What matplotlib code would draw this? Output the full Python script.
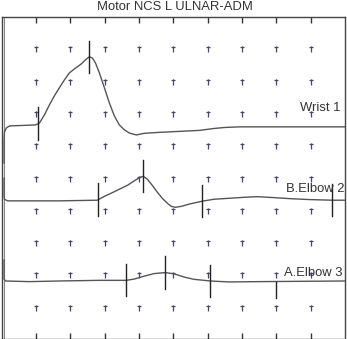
import numpy as np
import matplotlib
matplotlib.use("Agg")
import matplotlib.pyplot as plt
from matplotlib.path import Path

title = "Motor NCS L ULNAR-ADM"
labels = ["Wrist 1", "B.Elbow 2", "A.Elbow 3"]

# time in ms (2 ms/div), amplitude in divisions relative to each trace's baseline
t1 = [0.15, 0.15, 0.17, 0.29, 0.47, 1.05, 1.98, 2.21, 2.50, 2.79, 3.08, 3.37, 3.66, 3.95, 4.24,
      4.65, 4.94, 5.12, 5.29, 5.47, 5.70, 5.99, 6.28, 6.57, 6.86, 7.15, 7.44, 7.85, 8.31, 9.19,
      10.35, 11.51, 12.38, 12.97, 13.84, 20.0]
a1 = [-1.18, -0.46, -0.22, -0.09, -0.03, -0.02, 0.0, 0.06, 0.31, 0.62, 0.90, 1.15, 1.39, 1.61, 1.73,
      1.89, 2.04, 2.11, 2.07, 1.92, 1.61, 1.15, 0.68, 0.28, 0.0, -0.15, -0.25, -0.31, -0.26, -0.23,
      -0.20, -0.17, -0.11, -0.08, -0.06, -0.06]
m1 = [2.15, 5.12]

t2 = [0.15, 0.15, 0.17, 0.35, 1.05, 3.37, 5.58, 5.99, 6.40, 6.86, 7.33, 7.79, 8.08, 8.26, 8.49,
      8.78, 9.07, 9.36, 9.65, 9.88, 10.12, 10.47, 10.93, 11.69, 12.38, 13.26, 14.13, 14.88, 15.87,
      16.74, 17.91, 19.24, 20.0]
a2 = [0.68, 0.15, 0.03, -0.02, -0.02, -0.02, 0.0, 0.12, 0.22, 0.34, 0.46, 0.62, 0.71, 0.74, 0.65,
      0.46, 0.25, 0.06, -0.09, -0.19, -0.22, -0.19, -0.12, -0.03, 0.03, 0.06, 0.09, 0.11, 0.08,
      0.05, 0.02, 0.0, 0.0]
m2 = [5.64, 8.26, 11.69, 19.24]

t3 = [0.15, 0.15, 0.23, 1.63, 3.37, 5.70, 7.27, 7.73, 8.31, 8.90, 9.53, 10.06, 10.64, 11.22, 11.80,
      12.15, 13.26, 15.0, 20.0]
a3 = [0.65, 0.06, 0.0, -0.02, 0.0, 0.02, 0.02, 0.06, 0.15, 0.23, 0.26, 0.22, 0.12, 0.05, 0.02,
      0.0, -0.03, -0.02, 0.0]
m3 = [7.27, 9.53, 12.15, 15.99]

baselines = [6.66, 4.33, 1.83]
grid_x = [2, 4, 6, 8, 10, 12, 14, 16, 18]
grid_y = [1, 2, 3, 4, 5, 6, 7, 8, 9]

W, H = 347, 339
fig = plt.figure(figsize=(W / 100, H / 100), dpi=100)
ax = fig.add_axes([1.5 / W, (H - 338.5) / H, 343.5 / W, 321.5 / H])
ax.set_xlim(0, 20)
ax.set_ylim(0.05, 10)

# grid markers (small dagger shapes)
dagger = Path([(0, -1), (0, 1), (-0.55, 0.45), (0.55, 0.45)],
              [Path.MOVETO, Path.LINETO, Path.MOVETO, Path.LINETO])
gx, gy = np.meshgrid(grid_x, grid_y)
ax.plot(gx.ravel(), gy.ravel(), ls='none', marker=dagger, markersize=5, mew=0.9,
        color='#4d4466', zorder=1)

# stimulus line
ax.axvline(0.17, color='#888888', lw=0.8, zorder=1)

trace_col = '#555555'
mark_col = '#222222'
traces = [(t1, a1, m1), (t2, a2, m2), (t3, a3, m3)]
for i, (t, a, m) in enumerate(traces):
    b = baselines[i]
    y = np.array(a) + b
    ax.plot(t, y, color=trace_col, lw=1.0, zorder=3, solid_joinstyle='round')
    for j, tm in enumerate(m):
        yc = np.interp(tm, t, y)
        if i == 2 and j == 3:
            ax.plot([tm, tm], [yc - 0.5, yc], color=mark_col, lw=1.0, zorder=4)
        else:
            ax.plot([tm, tm], [yc - 0.5, yc + 0.5], color=mark_col, lw=1.0, zorder=4)

font = 'Liberation Sans'
ax.text(19.72, 7.08, labels[0], ha='right', va='baseline', fontsize=9.4, family=font, color='#333333', zorder=5)
ax.text(20.0, 4.58, labels[1], ha='right', va='baseline', fontsize=9.4, family=font, color='#333333', zorder=5)
ax.text(19.85, 1.98, labels[2], ha='right', va='baseline', fontsize=9.4, family=font, color='#333333', zorder=5)

fig.text(175 / W, 1 - 7 / H, title, ha='center', va='center', fontsize=9.4, family=font, color='#333333')

ax.set_xticks(grid_x)
ax.set_yticks([])
ax.tick_params(axis='x', direction='in', length=4, width=1, color='#333333', top=True, bottom=True,
               labelbottom=False, labeltop=False)
for s in ax.spines.values():
    s.set_color('#444444')
    s.set_linewidth(1.0)

fig.savefig('out.png', dpi=100)
